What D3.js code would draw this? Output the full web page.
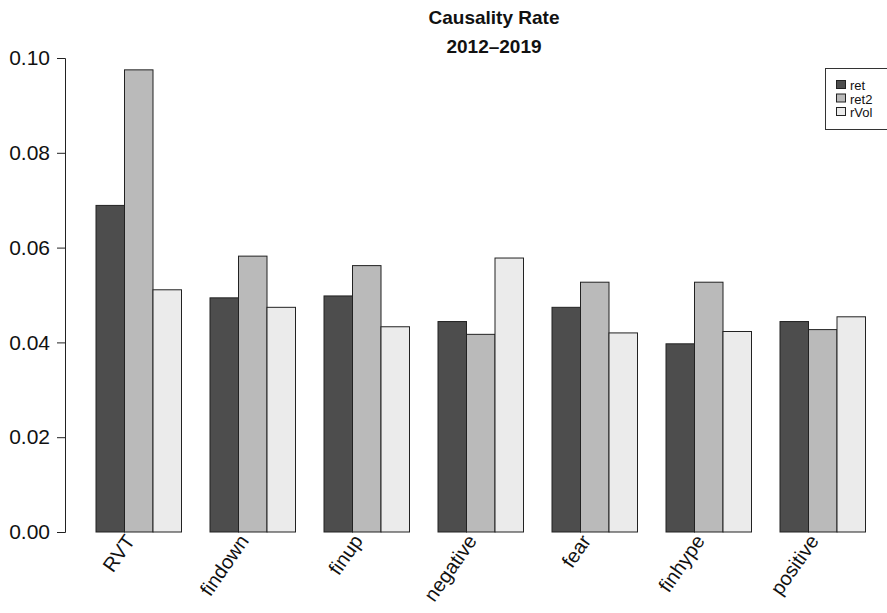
<!DOCTYPE html>
<html>
<head>
<meta charset="utf-8">
<script src="https://cdn.jsdelivr.net/npm/d3@7"></script>
<style>
  body { margin: 0; background: #fff; }
  svg { font-family: "Liberation Sans", Arial, sans-serif; }
</style>
</head>
<body>
<svg id="chart"></svg>
<script>
// categories and series
var categories = ["RVT", "findown", "finup", "negative", "fear", "finhype", "positive"]
var seriesNames = ["ret", "ret2", "rVol"]
var ret  = [0.0689, 0.0494, 0.0498, 0.0444, 0.0474, 0.0397, 0.0444]
var ret2 = [0.0975, 0.0582, 0.0562, 0.0417, 0.0527, 0.0527, 0.0427]
var rVol = [0.0511, 0.0474, 0.0433, 0.0578, 0.0420, 0.0423, 0.0454]
var yTicks = [0, 0.02, 0.04, 0.06, 0.08, 0.10]
var titleLines = ["Causality Rate", "2012\u20132019"]

var width = 887, height = 613
var fills = ["#4d4d4d", "#bababa", "#ebebeb"]

var svg = d3.select("#chart")
    .attr("width", width)
    .attr("height", height)

var values = [ret, ret2, rVol]
var data = categories.map((c, i) => ({
    cat: c,
    vals: seriesNames.map((s, j) => ({key: s, value: values[j][i]}))
}))

var x0 = d3.scaleBand()
    .domain(categories)
    .range([96, 865.5])
    .paddingInner(0.25)
    .paddingOuter(0)

var x1 = d3.scaleBand()
    .domain(seriesNames)
    .range([0, x0.bandwidth()])

var y = d3.scaleLinear()
    .domain([0, 0.1])
    .range([532, 58])

var color = d3.scaleOrdinal().domain(seriesNames).range(fills)

// bars
svg.append("g")
    .selectAll("g")
    .data(data)
    .enter()
    .append("g")
        .attr("transform", d => "translate(" + x0(d.cat) + ",0)")
    .selectAll("rect")
    .data(d => d.vals)
    .enter()
    .append("rect")
        .attr("x", d => x1(d.key))
        .attr("y", d => y(d.value))
        .attr("width", x1.bandwidth())
        .attr("height", d => y(0) - y(d.value))
        .attr("fill", d => color(d.key))
        .attr("stroke", "#222")
        .attr("stroke-width", 1)

// y axis
var yAxis = svg.append("g")
    .attr("transform", "translate(65,0)")
    .call(d3.axisLeft(y).tickValues(yTicks).tickFormat(d3.format(".2f")).tickSize(8).tickPadding(7))
yAxis.select(".domain").attr("stroke", "#222")
yAxis.selectAll(".tick line").attr("stroke", "#222")
yAxis.selectAll(".tick text")
    .attr("font-size", 21)
    .attr("fill", "#111")
    .attr("font-family", "Liberation Sans, Arial, sans-serif")

// x labels, rotated
svg.append("g")
    .selectAll("text")
    .data(categories)
    .enter()
    .append("text")
        .attr("transform", d => "translate(" + (x0(d) + x0.bandwidth() / 2 - 3) + ",541) rotate(-55)")
        .attr("text-anchor", "end")
        .attr("font-size", 20)
        .attr("fill", "#111")
        .text(d => d)

// title
svg.append("g")
    .selectAll("text")
    .data(titleLines)
    .enter()
    .append("text")
        .attr("x", 494)
        .attr("y", (d, i) => 24 + i * 29)
        .attr("text-anchor", "middle")
        .attr("font-size", 19)
        .attr("font-weight", "bold")
        .attr("fill", "#111")
        .text(d => d)

// legend
var legend = svg.append("g")
legend.append("rect")
    .attr("x", 825.5)
    .attr("y", 68.5)
    .attr("width", 80)
    .attr("height", 61)
    .attr("fill", "none")
    .attr("stroke", "#333")

var items = legend.selectAll("g.item")
    .data(seriesNames)
    .enter()
    .append("g")
        .attr("class", "item")
        .attr("transform", (d, i) => "translate(837," + (85 + i * 13.5) + ")")
items.append("rect")
    .attr("x", -0.5)
    .attr("y", -4.5)
    .attr("width", 9)
    .attr("height", 8)
    .attr("fill", d => color(d))
    .attr("stroke", "#222")
items.append("text")
    .attr("x", 13)
    .attr("y", 5)
    .attr("font-size", 13)
    .attr("fill", "#111")
    .text(d => d)
</script>
</body>
</html>
